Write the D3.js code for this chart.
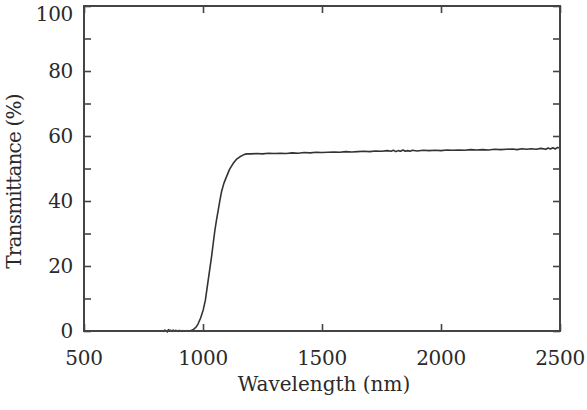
<!DOCTYPE html>
<html>
<head>
<meta charset="utf-8">
<script src="https://cdn.jsdelivr.net/npm/d3@7"></script>
<style>
  body { margin: 0; background: #fff; }
</style>
</head>
<body>
<div id="chart"></div>
<script>
// data
var wavelength = [830, 835, 840, 845, 850, 855, 860, 865, 870, 875, 880, 885, 890, 895, 900, 905, 910, 915, 920, 925, 930, 935, 940, 945, 950, 955, 960,
  965, 973, 980, 990, 1001, 1010, 1022, 1030, 1036, 1043, 1050, 1057, 1064, 1071, 1078, 1088, 1099, 1112, 1127, 1140, 1155, 1170, 1183, 1200,
  1225, 1250, 1275, 1300, 1325, 1350, 1375, 1400, 1425, 1450, 1475, 1500, 1525, 1550, 1575, 1600, 1625, 1650, 1675, 1700, 1725, 1750, 1775,
  1790, 1800, 1810, 1820, 1830, 1840, 1850, 1860, 1870, 1880, 1900, 1925, 1950, 1975, 2000, 2025, 2050, 2075, 2100, 2125, 2150, 2175, 2200,
  2225, 2250, 2275, 2300, 2320, 2340, 2360, 2380, 2400, 2420, 2440, 2450, 2460, 2470, 2480, 2490, 2500]
var transmittance = [0.1, -0.1, 0.3, 0.0, -0.3, 0.4, 0.1, 0.2, -0.1, 0.3, 0.0, 0.2, 0.1, -0.1, 0.2, 0.0, 0.1, -0.1, 0.1, 0.0, 0.1, 0.0, 0.1, 0.0, 0.2, 0.3, 0.5,
  0.8, 1.4, 2.3, 4.0, 6.5, 9.5, 15.7, 19.8, 22.9, 27.0, 31.0, 34.3, 37.2, 40.2, 42.9, 45.5, 47.5, 49.8, 51.6, 52.8, 53.6, 54.2, 54.5, 54.5,
  54.6, 54.5, 54.7, 54.6, 54.7, 54.6, 54.8, 54.7, 54.9, 54.8, 55.0, 54.9, 55.0, 55.1, 55.0, 55.2, 55.1, 55.2, 55.3, 55.2, 55.4, 55.3, 55.5,
  55.3, 55.6, 55.2, 55.5, 55.3, 55.7, 55.3, 55.5, 55.3, 55.6, 55.4, 55.6, 55.5, 55.6, 55.5, 55.7, 55.6, 55.7, 55.6, 55.8, 55.7, 55.8, 55.7,
  55.9, 55.8, 55.9, 56.0, 55.8, 56.1, 55.9, 56.1, 55.9, 56.2, 55.9, 56.3, 56.0, 56.4, 56.0, 56.5, 56.2]
var xTicks = [500, 1000, 1500, 2000, 2500]
var yTicks = [0, 10, 20, 30, 40, 50, 60, 70, 80, 90, 100]
var yLabels = [0, 20, 40, 60, 80, 100]

var margin = { top: 6, right: 27, bottom: 79, left: 84 },
  width = 587 - margin.left - margin.right,
  height = 410 - margin.top - margin.bottom,
  tickLen = 7,
  axisColor = "#444",
  serif = "DejaVu Serif"

var svg = d3.select("#chart").append("svg")
  .attr("width", 587)
  .attr("height", 410)
  .style("font-family", serif)

var g = svg.append("g")
  .attr("transform", "translate(" + margin.left + "," + margin.top + ")")

var x = d3.scaleLinear().domain([500, 2500]).range([0, width])
var y = d3.scaleLinear().domain([0, 100]).range([height, 0])

// inside ticks on all four sides
function styleAxis(sel) {
  sel.select(".domain").remove()
  sel.selectAll("line").attr("stroke", axisColor).attr("stroke-width", 1.6)
  sel.selectAll("text").remove()
}
g.append("g").attr("transform", "translate(0," + height + ")")
  .call(d3.axisBottom(x).tickValues(xTicks).tickSize(-tickLen)).call(styleAxis)
g.append("g")
  .call(d3.axisTop(x).tickValues(xTicks).tickSize(-tickLen)).call(styleAxis)
g.append("g")
  .call(d3.axisLeft(y).tickValues(yTicks).tickSize(-tickLen)).call(styleAxis)
g.append("g").attr("transform", "translate(" + width + ",0)")
  .call(d3.axisRight(y).tickValues(yTicks).tickSize(-tickLen)).call(styleAxis)

// tick labels
g.selectAll(".xlab").data(xTicks).enter().append("text")
  .attr("x", d => x(d))
  .attr("y", height + 34)
  .attr("text-anchor", "middle")
  .attr("fill", "#2a2a2a")
  .style("font-size", "20px")
  .style("letter-spacing", "-0.3px")
  .text(d => d)
g.selectAll(".ylab").data(yLabels).enter().append("text")
  .attr("x", -11)
  .attr("y", d => Math.max(y(d), 8) + 7)
  .attr("text-anchor", "end")
  .attr("fill", "#2a2a2a")
  .style("font-size", "20px")
  .style("letter-spacing", "-0.3px")
  .text(d => d)

// axis titles
g.append("text")
  .attr("x", width / 2 + 2)
  .attr("y", height + 60)
  .attr("text-anchor", "middle")
  .attr("fill", "#2a2a2a")
  .style("font-size", "20px")
  .text("Wavelength (nm)")
g.append("text")
  .attr("transform", "translate(" + (-63) + "," + (height / 2 + 13) + ") rotate(-90)")
  .attr("text-anchor", "middle")
  .attr("fill", "#2a2a2a")
  .style("font-size", "20px")
  .style("letter-spacing", "-0.8px")
  .text("Transmittance (%)")

// spectrum
var data = wavelength.map((w, i) => ({ w: w, t: transmittance[i] }))
var line = d3.line()
  .x(d => x(d.w))
  .y(d => y(d.t))
g.append("path")
  .datum(data)
  .attr("d", line)
  .attr("fill", "none")
  .attr("stroke", "#333")
  .attr("stroke-width", 1.6)
  .attr("stroke-linejoin", "round")

// frame
g.append("rect")
  .attr("width", width)
  .attr("height", height)
  .attr("fill", "none")
  .attr("stroke", axisColor)
  .attr("stroke-width", 2)
</script>
</body>
</html>
